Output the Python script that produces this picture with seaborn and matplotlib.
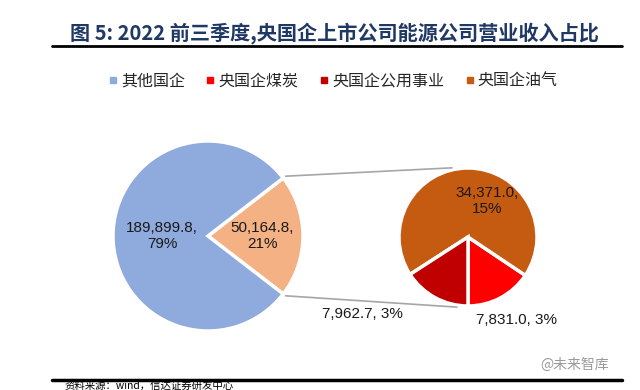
import numpy as np
import matplotlib
matplotlib.use("Agg")
import matplotlib.pyplot as plt
import seaborn as sns
from matplotlib.lines import Line2D

# data (values and shares as printed in the chart)
categories = ["其他国企", "央国企煤炭", "央国企公用事业", "央国企油气"]
big_values = [50164.8, 189899.8]       # energy SOEs, other SOEs
big_shares = [21, 79]
small_values = [7831.0, 34371.0, 7962.7]   # coal, oil, utility
small_shares = [3, 15, 3]
colors = {"其他国企": "#8FAADC", "央国企煤炭": "#FF0000",
          "央国企公用事业": "#C00000", "央国企油气": "#C55A11"}
energy_color = "#F4B183"

sns.set_theme(style="white")
plt.rcParams['font.family'] = ['Noto Sans CJK SC', 'DejaVu Sans']

fig = plt.figure(figsize=(6.4, 3.9), dpi=100)
ax = fig.add_axes([0, 0, 1, 1])

# big pie: energy slice centred on the right
big_c, big_r = (208, 154), 95
half = big_values[0] / sum(big_values) * 360 / 2
ax.pie(big_values, colors=[energy_color, colors["其他国企"]],
       startangle=-half, counterclock=True, center=big_c, radius=big_r,
       wedgeprops=dict(edgecolor="white", linewidth=2.5), frame=True)

# small pie: split of the energy slice
small_c, small_r = (468, 153), 69
ax.pie(small_values,
       colors=[colors["央国企煤炭"], colors["央国企油气"], colors["央国企公用事业"]],
       startangle=-90, counterclock=True, center=small_c, radius=small_r,
       wedgeprops=dict(edgecolor="white", linewidth=2.5), frame=True)
ax.set_xlim(0, 640)
ax.set_ylim(0, 390)
ax.set_aspect("equal")
ax.axis("off")

# connector lines
for a_big, a_small in [(half, 103), (-half, 261)]:
    x0 = big_c[0] + (big_r + 3) * np.cos(np.radians(a_big))
    y0 = big_c[1] + (big_r + 3) * np.sin(np.radians(a_big))
    x1 = small_c[0] + (small_r + 2) * np.cos(np.radians(a_small))
    y1 = small_c[1] + (small_r + 2) * np.sin(np.radians(a_small))
    ax.plot([x0, x1], [y0, y1], color="#A6A6A6", lw=1.2)

def lab(v, p, sep):
    return f"{v:,.1f},{sep}{p}%"

num_font = dict(family="Liberation Sans", fontsize=11, color="#1a1a1a")
ax.text(162, 154, lab(big_values[1], big_shares[1], "\n"), ha="center", va="center", **num_font)
ax.text(262, 154, lab(big_values[0], big_shares[0], "\n"), ha="center", va="center", **num_font)
ax.text(487, 189, lab(small_values[1], small_shares[1], "\n"), ha="center", va="center", **num_font)
ax.text(362, 76, lab(small_values[2], small_shares[2], " "), ha="center", va="center", **num_font)
ax.text(517, 70, lab(small_values[0], small_shares[0], " "), ha="center", va="center", **num_font)

# title and rules
ax.text(334, 357, "图 5: 2022 前三季度,央国企上市公司能源公司营业收入占比",
        ha="center", va="center", fontsize=14.5, fontweight="bold", color="#1F3864")
ax.plot([52, 622], [344, 344], color="black", lw=2)
ax.plot([52, 622], [10, 10], color="black", lw=2.5)
ax.text(575, 25, "@未来智库", ha="center", va="center", fontsize=10, color="#9a9a9a")
ax.text(65, 4, "资料来源：wind，信达证券研发中心", ha="left", va="center",
        fontsize=7.5, color="black", style="italic")

# legend
handles = [Line2D([], [], marker="s", linestyle="none", markersize=4,
                  color=colors[c], label=c) for c in categories]
fig.legend(handles=handles, loc="center", bbox_to_anchor=(0.52, 1 - 81 / 390),
           ncol=4, frameon=False, fontsize=11.5, handletextpad=0.2,
           columnspacing=1.3, handlelength=0.6)

fig.savefig("out.png", dpi=100)
